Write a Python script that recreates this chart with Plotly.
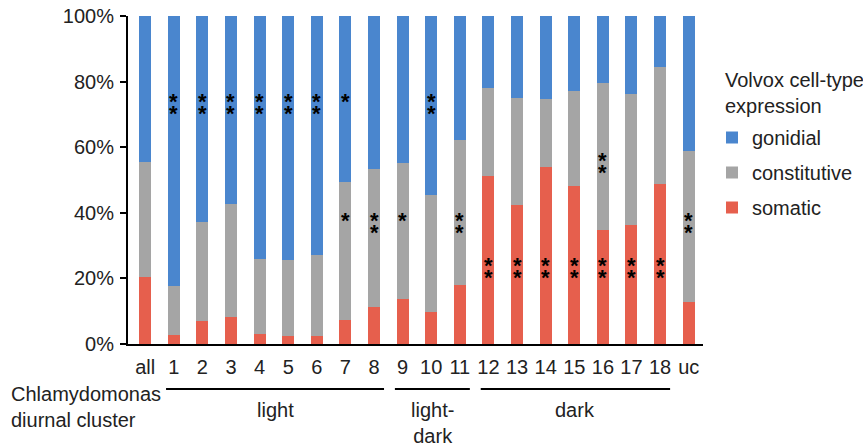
import plotly.graph_objects as go

categories = ["all", "1", "2", "3", "4", "5", "6", "7", "8", "9", "10",
              "11", "12", "13", "14", "15", "16", "17", "18", "uc"]
# percentages per segment (stacked bottom->top: somatic, constitutive, gonidial)
somatic = [20.5, 2.7, 7.1, 8.1, 3.0, 2.5, 2.4, 7.4, 11.3, 13.7, 9.8,
           18.1, 51.3, 42.4, 54.0, 48.3, 34.8, 36.3, 48.9, 12.8]
somatic_plus_const = [55.4, 17.7, 37.3, 42.7, 25.9, 25.6, 27.0, 49.5, 53.5, 55.3, 45.4,
                      62.2, 78.0, 74.9, 74.7, 77.2, 79.5, 76.2, 84.4, 58.9]
constitutive = [round(t - s, 1) for t, s in zip(somatic_plus_const, somatic)]
gonidial = [round(100 - t, 1) for t in somatic_plus_const]

# significance marks: (category, y of top star in %, number of stars)
stars = [("1", 75.5, 2), ("2", 75.5, 2), ("3", 75.5, 2), ("4", 75.5, 2),
         ("5", 75.5, 2), ("6", 75.5, 2), ("7", 75.5, 1), ("10", 75.5, 2),
         ("7", 39.2, 1), ("8", 39.3, 2), ("9", 39.2, 1), ("11", 39.3, 2),
         ("16", 57.6, 2), ("uc", 39.3, 2),
         ("12", 25.6, 2), ("13", 25.6, 2), ("14", 25.6, 2), ("15", 25.6, 2),
         ("16", 25.6, 2), ("17", 25.6, 2), ("18", 25.6, 2)]

groups = [("light", "1", "8"), ("light-<br>dark", "9", "11"), ("dark", "12", "18")]

colors = {"gonidial": "#4A86CE", "constitutive": "#A5A5A5", "somatic": "#E65F4D"}
ranks = {"gonidial": 1, "constitutive": 2, "somatic": 3}
FONT = "Liberation Sans, Arial, sans-serif"
FS = 20

fig = go.Figure()
for name, vals in [("somatic", somatic), ("constitutive", constitutive), ("gonidial", gonidial)]:
    fig.add_trace(go.Bar(x=categories, y=vals, name=name, marker_color=colors[name],
                         marker_line_width=0, legendgroup=name, legendrank=ranks[name],
                         hoverinfo="skip"))

annotations = []
for cat, ytop, n in stars:
    for k in range(n):
        annotations.append(dict(x=cat, y=ytop - k * 3.7, xref="x", yref="y", text="<b>*</b>",
                                showarrow=False, font=dict(size=22, color="black", family=FONT),
                                yshift=-5))

shapes = []
idx = {c: i for i, c in enumerate(categories)}
for label, a, b in groups:
    x0 = idx[a] - 0.27
    x1 = idx[b] + 0.35
    shapes.append(dict(type="line", xref="x", yref="paper", x0=x0, x1=x1, y0=-0.137, y1=-0.137,
                       line=dict(color="black", width=2)))
    annotations.append(dict(x=(x0 + x1) / 2, y=-0.162, xref="x", yref="paper", text=label,
                            showarrow=False, yanchor="top", font=dict(size=FS, color="#222", family=FONT)))

annotations.append(dict(x=(9 - 128) / 575, y=-0.112, xref="paper", yref="paper",
                        text="Chlamydomonas<br>diurnal cluster",
                        showarrow=False, xanchor="left", yanchor="top", align="left",
                        font=dict(size=FS, color="#222", family=FONT)))

# legend title
annotations.append(dict(x=(723 - 128) / 575, y=(344 - 67) / 328, xref="paper", yref="paper",
                        text="Volvox cell-type<br>expression", showarrow=False,
                        xanchor="left", yanchor="top", align="left",
                        font=dict(size=FS, color="#222", family=FONT)))

fig.update_layout(
    barmode="stack", bargap=0.58,
    width=863, height=446,
    margin=dict(l=128, r=160, t=16, b=102, autoexpand=False),
    plot_bgcolor="white", paper_bgcolor="white",
    font=dict(family=FONT, size=FS, color="#222"),
    xaxis=dict(range=[-0.6, 19.5], showline=True, linecolor="black", linewidth=2,
               ticks="", tickfont=dict(size=FS), automargin=False, ticklabelstandoff=4),
    yaxis=dict(range=[0, 100], dtick=20, ticksuffix="%", showline=True, linecolor="black",
               linewidth=2, ticks="outside", ticklen=6, tickwidth=2, tickcolor="black",
               showgrid=False, zeroline=False, tickfont=dict(size=FS), automargin=False,
               ticklabelstandoff=2),
    legend=dict(x=(712 - 128) / 575, y=(344 - 118) / 328, xanchor="left", yanchor="top",
                traceorder="grouped", tracegroupgap=6, font=dict(size=FS),
                itemwidth=30),
    annotations=annotations, shapes=shapes,
    showlegend=True,
)
fig.write_html("out.html")
